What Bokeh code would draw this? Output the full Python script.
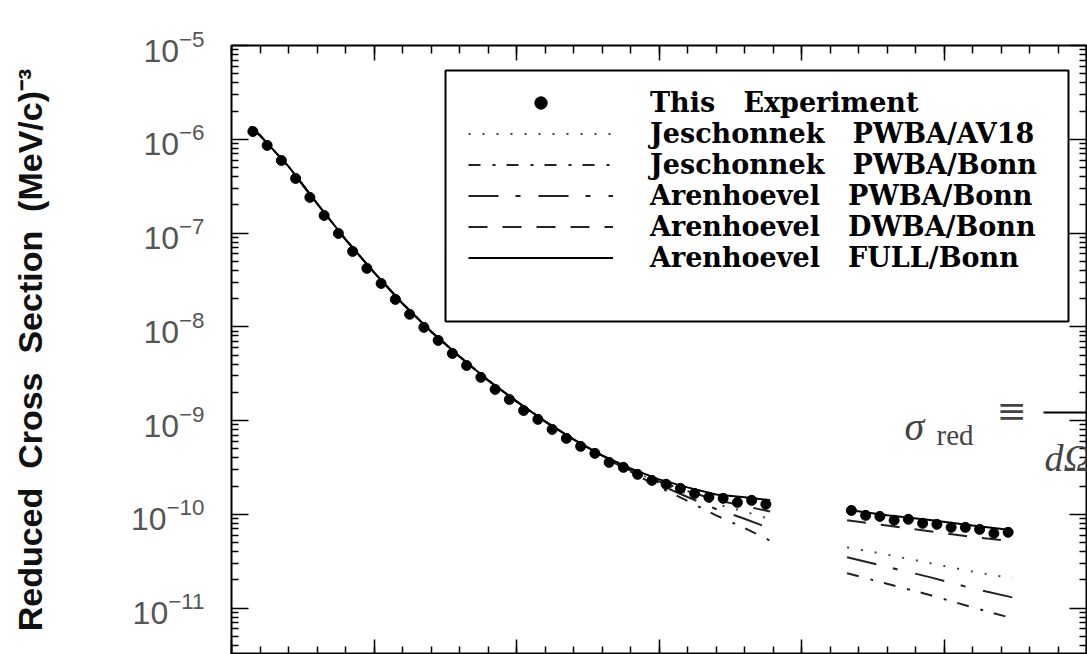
from bokeh.plotting import figure
from bokeh.models import (LogAxis, LinearAxis, Range1d, SingleIntervalTicker, FixedTicker,
                          Legend, LegendItem, Label, BoxAnnotation, CustomJSTickFormatter)
from bokeh.embed import file_html
from bokeh.resources import INLINE

# ---------------- data ----------------
# measured points: missing momentum (MeV/c) and reduced cross section (MeV/c)^-3
p_low = [15, 25, 35, 45, 55, 65, 75, 85, 95, 105, 115, 125, 135, 145, 155, 165, 175, 185,
         195, 205, 215, 225, 235, 245, 255, 265, 275, 285, 295, 305, 315, 325, 335, 345,
         355, 365, 375]
sig_low = [1.21e-6, 8.6e-7, 5.94e-7, 3.82e-7, 2.40e-7, 1.54e-7, 9.9e-8, 6.37e-8, 4.20e-8,
           2.90e-8, 1.96e-8, 1.36e-8, 9.86e-9, 7.16e-9, 5.20e-9, 3.87e-9, 2.89e-9, 2.15e-9,
           1.68e-9, 1.28e-9, 1.03e-9, 8.05e-10, 6.46e-10, 5.31e-10, 4.47e-10, 3.58e-10,
           3.17e-10, 2.67e-10, 2.30e-10, 2.09e-10, 1.89e-10, 1.67e-10, 1.52e-10, 1.48e-10,
           1.34e-10, 1.41e-10, 1.28e-10]
p_high = [435, 445, 455, 465, 475, 485, 495, 505, 515, 525, 535, 545]
sig_high = [1.10e-10, 9.75e-11, 9.5e-11, 8.64e-11, 8.85e-11, 8.02e-11, 7.82e-11, 7.26e-11,
            7.26e-11, 6.91e-11, 6.27e-11, 6.43e-11]

# theory curves, two kinematic settings
p_th1 = [13, 20, 40, 60, 80, 100, 120, 140, 160, 180, 200, 220, 240, 260, 280, 300, 320, 340, 360, 378]
p_th2 = [432, 460, 490, 520, 548]
common = [1.35e-6, 1.10e-6, 5.13e-7, 2.07e-7, 8.55e-8, 3.80e-8, 1.77e-8, 8.93e-9, 4.83e-9,
          2.69e-9, 1.60e-9, 9.79e-10, 6.31e-10]
full_1 = common + [4.26e-10, 3.09e-10, 2.36e-10, 1.94e-10, 1.63e-10, 1.52e-10, 1.41e-10]
full_2 = [1.12e-10, 9.77e-11, 8.71e-11, 7.59e-11, 6.76e-11]
dwba_1 = common + [4.24e-10, 3.02e-10, 2.24e-10, 1.77e-10, 1.42e-10, 1.23e-10, 1.07e-10]
dwba_2 = [8.63e-11, 7.59e-11, 6.61e-11, 5.75e-11, 5.15e-11]
jav18_1 = common + [4.22e-10, 2.98e-10, 2.16e-10, 1.66e-10, 1.29e-10, 1.07e-10, 8.89e-11]
jav18_2 = [4.45e-11, 3.72e-11, 3.02e-11, 2.45e-11, 2.08e-11]
apwba_1 = common + [4.20e-10, 2.92e-10, 2.07e-10, 1.53e-10, 1.14e-10, 8.97e-11, 7.06e-11]
apwba_2 = [3.48e-11, 2.75e-11, 2.14e-11, 1.62e-11, 1.30e-11]
jbonn_1 = common + [4.17e-10, 2.86e-10, 1.95e-10, 1.39e-10, 9.75e-11, 7.14e-11, 5.24e-11]
jbonn_2 = [2.35e-11, 1.82e-11, 1.38e-11, 1.02e-11, 7.78e-12]

SP = "\u00a0\u00a0 "   # wide word gap as in the original lettering
SPY = "\u00a0 "
labels = ["This" + SP + "Experiment", "Jeschonnek" + SP + "PWBA/AV18",
          "Jeschonnek" + SP + "PWBA/Bonn", "Arenhoevel" + SP + "PWBA/Bonn",
          "Arenhoevel" + SP + "DWBA/Bonn", "Arenhoevel" + SP + "FULL/Bonn"]
y_label = "Reduced" + SPY + "Cross" + SPY + "Section" + SPY + "(MeV/c)\u207b\u00b3"
decades = [-11, -10, -9, -8, -7, -6, -5]

# ---------------- layout constants ----------------
W, H = 1087, 654
FL, FB = 231, 654   # frame left / bottom (canvas px)


def sx(px):
    return px - FL


def sy(py):
    return FB - py


p = figure(width=W, height=H, x_axis_type=None, y_axis_type="log",
           x_range=Range1d(0, 600), y_range=Range1d(3.2e-12, 1e-5),
           output_backend="svg", toolbar_location=None,
           min_border_left=FL, min_border_right=1, min_border_top=45, min_border_bottom=0)
p.grid.visible = False
p.outline_line_color = "black"
p.outline_line_width = 2
p.background_fill_color = "white"
p.border_fill_color = "white"

major_y = [10.0 ** d for d in decades]
minor_y = [m * 10.0 ** d for d in range(-12, -5) for m in range(2, 10)]
yticker = FixedTicker(ticks=major_y, minor_ticks=minor_y)
xticker = SingleIntervalTicker(interval=100, num_minor_ticks=5)
blank = CustomJSTickFormatter(code="return ''")

ly = p.yaxis[0]
ly.ticker = yticker
ly.major_tick_in = 17
ly.major_tick_out = 0
ly.minor_tick_in = 7
ly.minor_tick_out = 0
ly.major_tick_line_width = 1.5
ly.minor_tick_line_width = 1.5
ly.axis_line_color = None
ly.major_label_text_font = "Liberation Sans"
ly.major_label_text_font_size = "32px"
ly.major_label_text_color = "#555555"
ly.major_label_standoff = 27
ly.axis_label = y_label
ly.axis_label_text_font = "Liberation Sans"
ly.axis_label_text_font_style = "bold"
ly.axis_label_text_font_size = "34px"
ly.axis_label_text_color = "#111111"
ly.axis_label_standoff = 79


def framed(ax, tin, tmin):
    ax.formatter = blank
    ax.major_label_text_font_size = "0px"
    ax.major_label_standoff = 0
    ax.major_tick_in = tin
    ax.major_tick_out = 0
    ax.minor_tick_in = tmin
    ax.minor_tick_out = 0
    ax.major_tick_line_width = 1.5
    ax.minor_tick_line_width = 1.5
    ax.axis_line_color = None
    return ax


ry = framed(LogAxis(ticker=yticker), 17, 7)
p.add_layout(ry, "right")
tx = framed(LinearAxis(ticker=xticker), 15, 8)
p.add_layout(tx, "above")
bx = framed(LinearAxis(ticker=xticker), 15, 8)
p.add_layout(bx, "below")

# ---------------- curves ----------------
def curve(a, b, dash, color="#222222"):
    return p.multi_line(xs=[p_th1, p_th2], ys=[a, b], line_color=color, line_width=2,
                        line_dash=dash)

r_jav18 = curve(jav18_1, jav18_2, "2 12", "#444444")
r_jbonn = curve(jbonn_1, jbonn_2, "12 12 3 11")
r_apwba = curve(apwba_1, apwba_2, "30 17 5 18")
r_dwba = curve(dwba_1, dwba_2, "19 15")
r_full = curve(full_1, full_2, "solid", "black")

r_pts = p.scatter(p_low + p_high, sig_low + sig_high, size=10, color="black")

# legend frame
p.add_layout(BoxAnnotation(left=sx(445), right=sx(1068), top=sy(70), bottom=sy(321),
                           left_units="screen", right_units="screen",
                           top_units="screen", bottom_units="screen",
                           fill_color="white", fill_alpha=1,
                           line_color="black", line_alpha=1, line_width=2))

legend = Legend(items=[LegendItem(label=labels[0], renderers=[r_pts]),
                       LegendItem(label=labels[1], renderers=[r_jav18]),
                       LegendItem(label=labels[2], renderers=[r_jbonn]),
                       LegendItem(label=labels[3], renderers=[r_apwba]),
                       LegendItem(label=labels[4], renderers=[r_dwba]),
                       LegendItem(label=labels[5], renderers=[r_full])],
                location=(sx(468), sy(273)),
                border_line_color=None, background_fill_alpha=0,
                padding=0, margin=0, spacing=0,
                glyph_width=145, glyph_height=31, label_height=31, label_standoff=37,
                label_text_font="DejaVu Serif", label_text_font_style="bold",
                label_text_font_size="27px", label_text_color="black")
p.add_layout(legend)

# formula fragment at right edge
p.add_layout(Label(x=sx(904), y=sy(426), x_units="screen", y_units="screen", text="σ",
                   text_font="Liberation Serif", text_font_style="italic",
                   text_font_size="40px", text_baseline="alphabetic"))
p.add_layout(Label(x=sx(936), y=sy(434), x_units="screen", y_units="screen", text="red",
                   text_font="Liberation Serif", text_font_size="29px",
                   text_baseline="alphabetic"))
p.add_layout(Label(x=sx(996), y=sy(410), x_units="screen", y_units="screen", text="≡",
                   text_font="DejaVu Serif", text_font_size="36px",
                   text_baseline="middle"))
p.add_layout(BoxAnnotation(left=sx(1043), right=sx(1095), top=sy(411), bottom=sy(413),
                           left_units="screen", right_units="screen",
                           top_units="screen", bottom_units="screen",
                           fill_color="black", fill_alpha=1, line_color=None))
p.add_layout(Label(x=sx(1044), y=sy(457), x_units="screen", y_units="screen", text="dΩ",
                   text_font="Liberation Serif", text_font_style="italic",
                   text_font_size="38px", text_baseline="alphabetic"))

open("out.html", "w").write(file_html(p, INLINE))
